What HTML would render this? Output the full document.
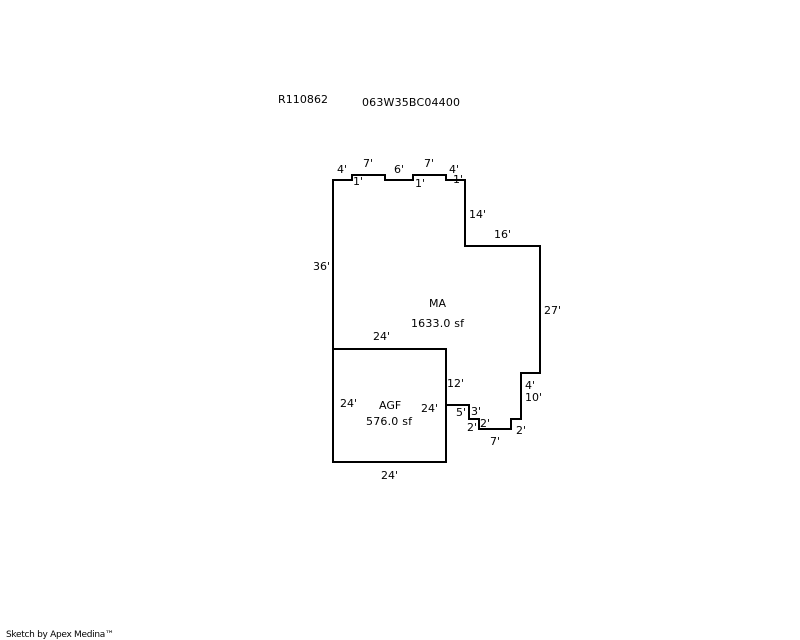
<!DOCTYPE html>
<html>
<head>
<meta charset="utf-8">
<style>
html,body{margin:0;padding:0;background:#fff;}
svg{display:block;}
text{font-family:"DejaVu Sans","Liberation Sans",sans-serif;font-size:11px;fill:#000;}
</style>
</head>
<body>
<svg width="800" height="640" viewBox="0 0 800 640" xmlns="http://www.w3.org/2000/svg" shape-rendering="crispEdges">
<path d="M333 462V180H352V175H385V180H413V175H446V180H465V246H540V373H521V419H511V429H479V419H469V405H446" fill="none" stroke="#000" stroke-width="2"/>
<rect x="333" y="349" width="113" height="113" fill="none" stroke="#000" stroke-width="2"/>
<text x="278" y="103" textLength="50" lengthAdjust="spacing">R110862</text>
<text x="362" y="106" textLength="98" lengthAdjust="spacing">063W35BC04400</text>
<text x="337" y="173">4'</text>
<text x="363" y="167">7'</text>
<text x="394" y="173">6'</text>
<text x="424" y="167">7'</text>
<text x="449" y="173">4'</text>
<text x="353" y="185">1'</text>
<text x="415" y="187">1'</text>
<text x="453" y="183">1'</text>
<text x="469" y="218">14'</text>
<text x="494" y="238">16'</text>
<text x="313" y="270">36'</text>
<text x="544" y="314">27'</text>
<text x="429" y="307">MA</text>
<text x="411" y="327" textLength="53" lengthAdjust="spacing">1633.0 sf</text>
<text x="373" y="340">24'</text>
<text x="447" y="387">12'</text>
<text x="525" y="389">4'</text>
<text x="525" y="401">10'</text>
<text x="340" y="407">24'</text>
<text x="421" y="412">24'</text>
<text x="379" y="409">AGF</text>
<text x="366" y="425" textLength="46" lengthAdjust="spacing">576.0 sf</text>
<text x="456" y="416">5'</text>
<text x="471" y="415">3'</text>
<text x="467" y="431">2'</text>
<text x="480" y="427">2'</text>
<text x="516" y="434">2'</text>
<text x="490" y="445">7'</text>
<text x="381" y="479">24'</text>
<text x="6" y="637" textLength="108" lengthAdjust="spacing" style="font-size:9px">Sketch by Apex Medina™</text>
</svg>
</body>
</html>
